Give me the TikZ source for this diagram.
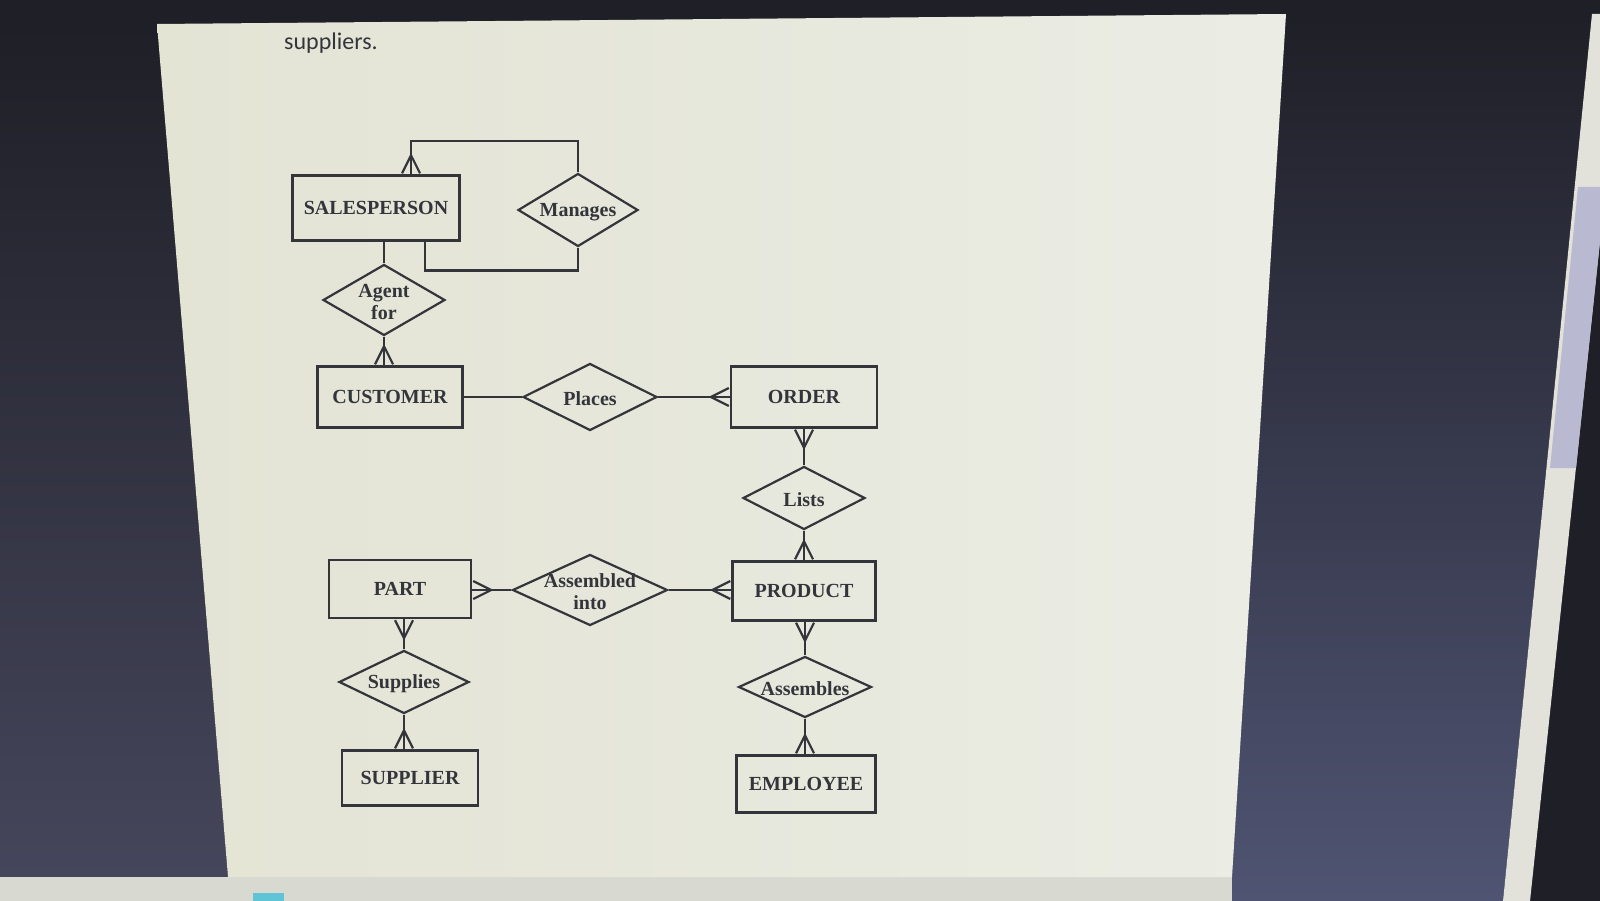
\documentclass[tikz,border=0pt]{standalone}
\usepackage{fontspec}
\setmainfont{Liberation Serif}
\newfontfamily\uifont{Carlito}
\usepackage{tikz}
\usetikzlibrary{arrows.meta}
\usetikzlibrary{shapes.geometric}
\usepackage{xcolor}
\definecolor{screendark}{HTML}{1F1F27}
\definecolor{leftside}{HTML}{45465B}
\definecolor{rightside}{HTML}{4F5472}
\definecolor{pagecream}{HTML}{E3E4D4}
\definecolor{pagelight}{HTML}{EBECE4}
\definecolor{inkgray}{HTML}{33353B}
\definecolor{bandgray}{HTML}{D8DAD2}
\definecolor{stripcream}{HTML}{E2E2DA}
\definecolor{thumblav}{HTML}{B9B9D1}
\definecolor{iconcyan}{HTML}{5FC4D6}

\begin{document}
\begin{tikzpicture}[x=1pt, y=-1pt,
		line width=2.2pt, draw=inkgray,
		entity/.style={draw=inkgray, rectangle, inner sep=0pt, font=\fontsize{20}{22}\selectfont\bfseries, text=inkgray},
		reltext/.style={inner sep=0pt, yshift=-2pt, align=center, font=\fontsize{20}{22}\selectfont\bfseries, text=inkgray},
		relation/.style={draw=inkgray, diamond, inner sep=0pt, label={[reltext]center:#1}},
		crow/.style={postaction={draw, -{Straight Barb[reversed, length=18pt, width=18pt]}}}]
			\useasboundingbox (0,0) rectangle (1600,901);
			% screen round the page
			\fill[screendark] (0,0) rectangle (1600,901);
			\shade[top color=screendark, bottom color=leftside] (0,24) -- (157,24) -- (228,877) -- (0,877) -- cycle;
			\shade[top color=screendark, bottom color=rightside] (1286,14) -- (1592,14) -- (1503,901) -- (1226,901) -- cycle;
			\fill[stripcream] (1592,14) -- (1600,14) -- (1600,241) -- (1530,901) -- (1503,901) -- cycle;
			\fill[thumblav] (1578,187) -- (1600,187) -- (1600,241) -- (1576,468) -- (1550,468) -- cycle;
			\fill[bandgray] (0,877) rectangle (1232,901);
			\fill[iconcyan] (253,893) rectangle (284,901);
			\shade[left color=pagecream, right color=pagelight] (157,24) -- (1286,14) -- (1232,877) -- (228,877) -- cycle;
			\node[text=inkgray, font=\uifont\fontsize{24}{26}\selectfont] (caption) at (331,43) {suppliers.};

			% entities
			\node[entity, minimum width=167pt, minimum height=65pt] (sales) at (376,208) {SALESPERSON};
			\node[entity, minimum width=145pt, minimum height=61pt] (customer) at (390,397) {CUSTOMER};
			\node[entity, minimum width=146pt, minimum height=61pt] (order) at (804,397) {ORDER};
			\node[entity, minimum width=143pt, minimum height=59pt] (product) at (804,591) {PRODUCT};
			\node[entity, minimum width=142pt, minimum height=58pt] (part) at (400,589) {PART};
			\node[entity, minimum width=136pt, minimum height=55pt] (supplier) at (410,778) {SUPPLIER};
			\node[entity, minimum width=139pt, minimum height=57pt] (employee) at (806,784) {EMPLOYEE};

			% relationships
			\node[relation=Manages, minimum width=120pt, minimum height=73pt] (manages) at (578,210) {};
			\node[relation={Agent\\for}, minimum width=122pt, minimum height=71pt] (agent) at (384,300) {};
			\node[relation=Places, minimum width=134pt, minimum height=67pt] (places) at (590,397) {};
			\node[relation=Lists, minimum width=122pt, minimum height=63pt] (lists) at (804,498) {};
			\node[relation={Assembled\\into}, minimum width=155pt, minimum height=71pt] (assembled) at (590,590) {};
			\node[relation=Supplies, minimum width=130pt, minimum height=63pt] (supplies) at (404,682) {};
			\node[relation=Assembles, minimum width=133pt, minimum height=61pt] (assembles) at (805,687) {};

			% connectors
			\draw[crow] (manages.north) -- ++(0,-31) -| ([xshift=35pt]sales.north);
			\draw (manages.south) -- ++(0,23) -| ([xshift=49pt]sales.south);
			\draw (agent.north) -- (agent.north |- sales.south);
			\draw[crow] (agent.south) -- (agent.south |- customer.north);
			\draw (customer.east) -- (places.west);
			\draw[crow] (places.east) -- (order.west);
			\draw[crow] (lists.north) -- (order.south);
			\draw[crow] (lists.south) -- (product.north);
			\draw[crow] (assembled.west) -- (assembled.west -| part.east);
			\draw[crow] (assembled.east) -- (assembled.east -| product.west);
			\draw[crow] (supplies.north) -- (supplies.north |- part.south);
			\draw[crow] (supplies.south) -- (supplies.south |- supplier.north);
			\draw[crow] (assembles.north) -- (assembles.north |- product.south);
			\draw[crow] (assembles.south) -- (assembles.south |- employee.north);
\end{tikzpicture}
\end{document}
